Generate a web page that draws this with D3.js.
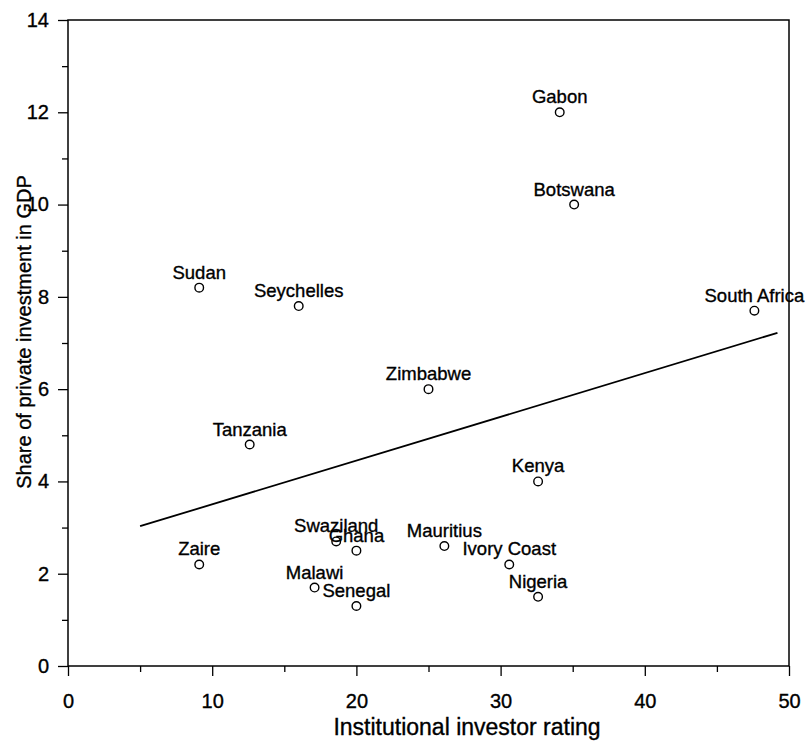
<!DOCTYPE html>
<html>
<head>
<meta charset="utf-8">
<script src="https://cdn.jsdelivr.net/npm/d3@7"></script>
<style>
  body { margin: 0; background: #fff; }
  svg { font-family: "Liberation Sans", Arial, Helvetica, sans-serif; }
  svg text { stroke: #000; stroke-width: 0.35px; }
</style>
</head>
<body>
<script>
// country data
var countries = ["Gabon", "Botswana", "Sudan", "Seychelles", "South Africa", "Zimbabwe",
                 "Tanzania", "Kenya", "Swaziland", "Ghana", "Mauritius", "Ivory Coast",
                 "Zaire", "Malawi", "Senegal", "Nigeria"];
var rating = [34.1, 35.1, 9.1, 16.0, 47.6, 25.0, 12.6, 32.6, 18.6, 20.0, 26.1, 30.6, 9.1, 17.1, 20.0, 32.6];
var investment = [12.0, 10.0, 8.2, 7.8, 7.7, 6.0, 4.8, 4.0, 2.7, 2.5, 2.6, 2.2, 2.2, 1.7, 1.3, 1.5];
// fitted line, end points
var fitX = [5, 49.2];
var fitY = [3.03, 7.22];
var xTicks = [0, 10, 20, 30, 40, 50];
var yTicks = [0, 2, 4, 6, 8, 10, 12, 14];

var width = 807, height = 741;
var margin = {left: 68, right: 18, top: 20, bottom: 75};

var svg = d3.select("body").append("svg")
    .attr("width", width)
    .attr("height", height);

var x = d3.scaleLinear().domain([0, 50]).range([margin.left, width - margin.right]);
var y = d3.scaleLinear().domain([0, 14]).range([height - margin.bottom, margin.top]);

// frame
svg.append("rect")
    .attr("x", x(0)).attr("y", y(14))
    .attr("width", x(50) - x(0)).attr("height", y(0) - y(14))
    .attr("fill", "none").attr("stroke", "#000").attr("stroke-width", 1.5);

// minor ticks
var xMinor = svg.append("g").attr("transform", "translate(0," + y(0) + ")")
    .call(d3.axisBottom(x).tickValues(d3.range(5, 50, 10)).tickSize(6).tickFormat(""));
var yMinor = svg.append("g").attr("transform", "translate(" + x(0) + ",0)")
    .call(d3.axisLeft(y).tickValues(d3.range(1, 14, 2)).tickSize(6).tickFormat(""));

var xAxis = svg.append("g").attr("transform", "translate(0," + y(0) + ")")
    .call(d3.axisBottom(x).tickValues(xTicks).tickSize(10).tickPadding(18).tickFormat(d3.format("d")));
var yAxis = svg.append("g").attr("transform", "translate(" + x(0) + ",0)")
    .call(d3.axisLeft(y).tickValues(yTicks).tickSize(10).tickPadding(9).tickFormat(d3.format("d")));

[xMinor, yMinor, xAxis, yAxis].forEach(function(g) {
  g.select(".domain").remove();
  g.selectAll("line").attr("stroke", "#000").attr("stroke-width", 1.3);
  g.selectAll("text").attr("fill", "#000").style("font-size", "20px")
    .style("font-family", "\"Liberation Sans\", Arial, sans-serif");
});

// axis titles
svg.append("text")
    .attr("x", 467).attr("y", 735)
    .attr("text-anchor", "middle")
    .style("font-size", "23px")
    .text("Institutional investor rating");

svg.append("text")
    .attr("transform", "translate(31,332) rotate(-90)")
    .attr("text-anchor", "middle")
    .style("font-size", "20px")
    .text("Share of private investment in GDP");

// regression line
svg.append("line")
    .attr("x1", x(fitX[0])).attr("y1", y(fitY[0]))
    .attr("x2", x(fitX[1])).attr("y2", y(fitY[1]))
    .attr("stroke", "#000").attr("stroke-width", 1.8);

// points
svg.selectAll("circle.pt")
    .data(countries)
    .enter()
    .append("circle")
    .attr("class", "pt")
    .attr("cx", function(d, i) { return x(rating[i]); })
    .attr("cy", function(d, i) { return y(investment[i]); })
    .attr("r", 4.3)
    .attr("fill", "#fff")
    .attr("stroke", "#000")
    .attr("stroke-width", 1.4);

svg.selectAll("text.lbl")
    .data(countries)
    .enter()
    .append("text")
    .attr("class", "lbl")
    .attr("x", function(d, i) { return x(rating[i]); })
    .attr("y", function(d, i) { return y(investment[i]) - 9; })
    .attr("text-anchor", "middle")
    .style("font-size", "18.5px")
    .text(function(d) { return d; });
</script>
</body>
</html>
